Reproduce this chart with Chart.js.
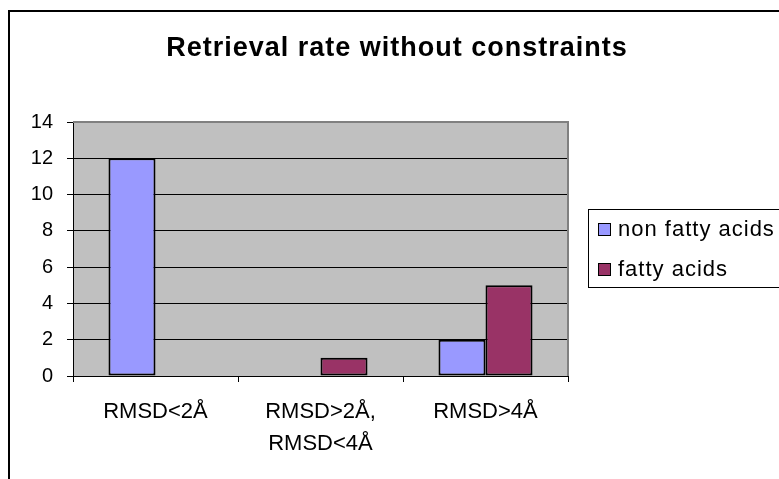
<!DOCTYPE html>
<html>
<head>
<meta charset="utf-8">
<title>Retrieval rate without constraints</title>
<script src="https://cdn.jsdelivr.net/npm/chart.js@4"></script>
<style>
  html, body { margin: 0; padding: 0; background: #fff; overflow: hidden; }
  #wrap { position: relative; width: 779px; height: 479px; }
</style>
</head>
<body>
<div id="wrap"><canvas id="chart"></canvas></div>
<script>
const chartTitle = 'Retrieval rate without constraints';
const categories = ['RMSD<2Å', ['RMSD>2Å,', 'RMSD<4Å'], 'RMSD>4Å'];
const nonFattyAcids = [12, 0, 2];
const fattyAcids = [0, 1, 5];
const seriesNames = ['non fatty acids', 'fatty acids'];
const seriesColors = ['#9999FF', '#993366'];

const FONT = '"Liberation Sans", Arial, sans-serif';

// gray plot area, gray top/right border, outer frame, title and boxed legend
const excelLook = {
  id: 'excelLook',
  beforeDraw(chart) {
    const { ctx, chartArea: a } = chart;
    ctx.save();
    ctx.fillStyle = '#C0C0C0';
    ctx.fillRect(a.left, a.top, a.right - a.left, a.bottom - a.top);
    ctx.restore();
  },
  afterDraw(chart) {
    const { ctx, chartArea: a } = chart;
    ctx.save();
    // plot border (top and right)
    ctx.strokeStyle = '#808080';
    ctx.lineWidth = 2;
    ctx.beginPath();
    ctx.moveTo(a.left, a.top);
    ctx.lineTo(a.right, a.top);
    ctx.lineTo(a.right, a.bottom);
    ctx.stroke();

    // outer frame
    ctx.strokeStyle = '#000';
    ctx.lineWidth = 2;
    ctx.strokeRect(9, 11, 900, 900);

    // title
    ctx.fillStyle = '#000';
    ctx.font = 'bold 27px ' + FONT;
    ctx.letterSpacing = '1px';
    ctx.textAlign = 'center';
    ctx.textBaseline = 'alphabetic';
    ctx.fillText(chartTitle, 397, 56);

    // legend
    const lx = a.right + 20;
    const ly = (a.top + a.bottom) / 2 - 40;
    ctx.lineWidth = 1;
    ctx.strokeStyle = '#000';
    ctx.fillStyle = '#fff';
    ctx.fillRect(lx + 0.5, ly + 0.5, 300, 78);
    ctx.strokeRect(lx + 0.5, ly + 0.5, 300, 78);
    ctx.font = '22px ' + FONT;
    ctx.letterSpacing = '1px';
    ctx.textAlign = 'left';
    chart.data.datasets.forEach((ds, i) => {
      const base = ly + 27 + i * 40;
      ctx.fillStyle = ds.backgroundColor;
      ctx.fillRect(lx + 10.5, base - 12.5, 12, 12);
      ctx.strokeRect(lx + 10.5, base - 12.5, 12, 12);
      ctx.fillStyle = '#000';
      ctx.fillText(ds.label, lx + 30, base);
    });
    ctx.restore();
  }
};

new Chart(document.getElementById('chart'), {
  type: 'bar',
  data: {
    labels: categories,
    datasets: [
      {
        label: seriesNames[0],
        data: nonFattyAcids,
        backgroundColor: seriesColors[0],
        borderColor: '#000',
        borderWidth: 2,
        borderSkipped: false,
      },
      {
        label: seriesNames[1],
        data: fattyAcids,
        backgroundColor: seriesColors[1],
        borderColor: '#000',
        borderWidth: 2,
        borderSkipped: false,
      },
    ],
  },
  options: {
    responsive: true,
    maintainAspectRatio: false,
    animation: false,
    categoryPercentage: 0.57,
    barPercentage: 1,
    layout: { padding: { left: 0, top: 122, right: 211, bottom: 0 } },
    plugins: {
      legend: { display: false },
      title: { display: false },
      tooltip: { enabled: false },
    },
    scales: {
      x: {
        grid: {
          offset: true,
          drawOnChartArea: false,
          color: '#000',
          tickLength: 6,
        },
        border: { color: '#000', width: 1 },
        ticks: {
          color: '#000',
          font: { family: FONT, size: 22, lineHeight: 1.45 },
          padding: 14,
          maxRotation: 0,
          autoSkip: false,
        },
        afterFit(scale) { scale.height = 479 - 376; },
      },
      y: {
        min: 0,
        max: 14,
        ticks: {
          stepSize: 2,
          color: '#000',
          font: { family: FONT, size: 20 },
          padding: 14,
        },
        grid: { color: '#000', lineWidth: 1, tickLength: 6 },
        border: { color: '#000', width: 1 },
        afterFit(scale) { scale.width = 73; },
      },
    },
  },
  plugins: [excelLook],
});
</script>
</body>
</html>
